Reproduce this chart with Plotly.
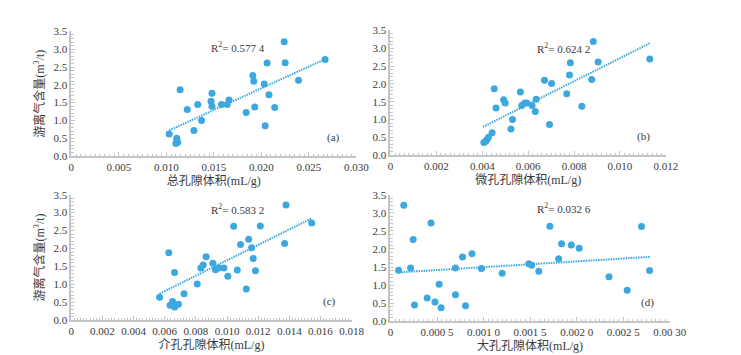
"""Free gas content vs. pore volume: four scatter panels with linear trend lines."""

import plotly.graph_objects as go

# ---- data ----
total_pv = [0.0103, 0.01145, 0.0111, 0.0111, 0.0112, 0.0110, 0.0122, 0.0133, 0.0129, 0.0137,
            0.0147, 0.0148, 0.0148, 0.0158, 0.0164, 0.0166, 0.0184, 0.0191, 0.0192, 0.0193,
            0.0203, 0.0204, 0.0206, 0.0208, 0.0214, 0.0224, 0.0225, 0.0239, 0.0267]
total_gas = [0.62, 1.86, 0.50, 0.43, 0.39, 0.35, 1.31, 1.45, 0.72, 1.00,
             1.54, 1.76, 1.40, 1.45, 1.45, 1.57, 1.22, 2.26, 2.10, 1.38,
             2.02, 0.85, 2.61, 1.72, 1.36, 3.21, 2.62, 2.13, 2.71]

micro_pv = [0.00407, 0.00415, 0.0042, 0.00427, 0.00443, 0.00452, 0.0046, 0.00493, 0.0050, 0.00525,
            0.00532, 0.00566, 0.00572, 0.00585, 0.00594, 0.00617, 0.00631, 0.00635, 0.00671, 0.00693,
            0.00702, 0.00768, 0.0078, 0.00784, 0.00834, 0.00877, 0.00884, 0.00905, 0.0113]
micro_gas = [0.35, 0.39, 0.43, 0.50, 0.63, 1.86, 1.32, 1.55, 1.46, 0.73,
             1.00, 1.77, 1.39, 1.46, 1.46, 1.39, 1.22, 1.57, 2.10, 0.86,
             2.01, 1.72, 2.25, 2.59, 1.37, 2.12, 3.19, 2.61, 2.70]

meso_pv = [0.00567, 0.00626, 0.00634, 0.0065, 0.00663, 0.00663, 0.00688, 0.00724, 0.00809, 0.00832,
           0.00847, 0.00866, 0.00909, 0.00926, 0.00947, 0.0098, 0.01005, 0.01043, 0.01066, 0.01087,
           0.01124, 0.01139, 0.01158, 0.01168, 0.01183, 0.01214, 0.0137, 0.01379, 0.01544]
meso_gas = [0.64, 1.88, 0.42, 0.52, 0.37, 1.33, 0.45, 0.74, 1.01, 1.46,
            1.54, 1.77, 1.59, 1.41, 1.46, 1.46, 1.23, 2.62, 1.40, 2.11,
            0.87, 2.26, 2.02, 1.72, 1.38, 2.63, 2.14, 3.21, 2.71]

macro_pv = [0.000087, 0.000143, 0.000216, 0.000244, 0.000258, 0.000394, 0.000436, 0.000478, 0.000523, 0.000544,
            0.000698, 0.000698, 0.000774, 0.000806, 0.000876, 0.000977, 0.0012, 0.001486, 0.001517, 0.001594,
            0.001713, 0.001807, 0.001838, 0.001943, 0.002027, 0.002348, 0.002543, 0.002697, 0.002784]
macro_gas = [1.41, 3.21, 1.47, 2.26, 0.45, 0.64, 2.72, 0.53, 1.02, 0.37,
             1.47, 0.73, 1.78, 0.43, 1.87, 1.46, 1.33, 1.59, 1.55, 1.38,
             2.63, 1.73, 2.14, 2.11, 2.02, 1.23, 0.86, 2.62, 1.40]

# trend line end points (x, y) as drawn in the picture
trend_x = [[0.0103, 0.0267], [0.00403, 0.0113], [0.00567, 0.01544], [0.000087, 0.002784]]
trend_y = [[0.72, 2.72], [0.79, 3.14], [0.74, 2.84], [1.35, 1.78]]

r2_text = ["0.577 4", "0.624 2", "0.583 2", "0.032 6"]
panel_tags = ["(a)", "(b)", "(c)", "(d)"]

x_titles = ["总孔隙体积(mL/g)", "微孔孔隙体积(mL/g)", "介孔孔隙体积(mL/g)", "大孔孔隙体积(mL/g)"]
y_title = "游离气含量(m<sup>3</sup>/t)"

x_tickvals = [
    [0, 0.005, 0.010, 0.015, 0.020, 0.025, 0.030],
    [0, 0.002, 0.004, 0.006, 0.008, 0.010, 0.012],
    [0, 0.002, 0.004, 0.006, 0.008, 0.010, 0.012, 0.014, 0.016, 0.018],
    [0, 0.0005, 0.0010, 0.0015, 0.0020, 0.0025, 0.0030],
]
x_ticktext = [
    ["0", "0.005", "0.010", "0.015", "0.020", "0.025", "0.030"],
    ["0", "0.002", "0.004", "0.006", "0.008", "0.010", "0.012"],
    ["0", "0.002", "0.004", "0.006", "0.008", "0.010", "0.012", "0.014", "0.016", "0.018"],
    ["0", "0.000 5", "0.001 0", "0.001 5", "0.002 0", "0.002 5", "0.00 30"],
]
y_tickvals = [0, 0.5, 1.0, 1.5, 2.0, 2.5, 3.0, 3.5]
y_ticktext = ["0.0", "0.5", "1.0", "1.5", "2.0", "2.5", "3.0", "3.5"]

# r2 label anchor in data coords
r2_x = [0.0175, 0.00755, 0.0107, 0.00186]
r2_y = [3.05, 3.0, 3.10, 3.12]

# ---- layout ----
W, H = 741, 355
BLUE = "#3DA8DF"
AXIS_GREY = "#c4c4c4"
TEXT = "#3a3a3a"
FONT = "Liberation Serif, Noto Sans CJK SC, serif"

# plot boxes in pixels: (left, right, top, bottom)
boxes = [(62, 355, 18, 147), (390, 673, 17, 146), (62, 350, 187, 317), (390, 677, 187, 318)]
x_max = [0.030, 0.012, 0.018, 0.0030]
x_minor = [0.0005, 0.0002, 0.0002, 0.00005]

xs = [total_pv, micro_pv, meso_pv, macro_pv]
ys = [total_gas, micro_gas, meso_gas, macro_gas]

fig = go.Figure()

for i in range(4):
    n = "" if i == 0 else str(i + 1)
    xa, ya = "x" + n, "y" + n
    fig.add_trace(go.Scatter(
        x=trend_x[i], y=trend_y[i], mode="lines", xaxis=xa, yaxis=ya,
        line=dict(color=BLUE, width=2, dash="1.5px,1px"), showlegend=False, hoverinfo="skip",
    ))
    fig.add_trace(go.Scatter(
        x=xs[i], y=ys[i], mode="markers", xaxis=xa, yaxis=ya,
        marker=dict(color=BLUE, size=7, line=dict(width=0)), showlegend=False,
    ))

    left, right, top, bottom = boxes[i]
    tick_common = dict(
        showline=True, linecolor=AXIS_GREY, linewidth=2, showgrid=False, zeroline=False,
        ticks="inside", ticklen=4, tickcolor=AXIS_GREY, tickwidth=1,
        tickfont=dict(family=FONT, size=11, color=TEXT), mirror=False,
    )
    fig.layout["xaxis" + n] = dict(
        domain=[left / W, right / W], anchor=ya, range=[0, x_max[i]],
        tickmode="array", tickvals=x_tickvals[i], ticktext=x_ticktext[i],
        minor=dict(ticks="inside", ticklen=2.5, tickcolor=AXIS_GREY, dtick=x_minor[i]),
        title=dict(text=x_titles[i], font=dict(family=FONT, size=12, color=TEXT), standoff=4),
        **tick_common,
    )
    y_axis = dict(
        domain=[1 - bottom / H, 1 - top / H], anchor=xa, range=[0, 3.5],
        tickmode="array", tickvals=y_tickvals, ticktext=y_ticktext,
        minor=dict(ticks="inside", ticklen=2.5, tickcolor=AXIS_GREY, dtick=0.1),
        **tick_common,
    )
    if i % 2 == 0:
        y_axis["title"] = dict(text=y_title, font=dict(family=FONT, size=12, color=TEXT), standoff=6)
    fig.layout["yaxis" + n] = y_axis

    fig.add_annotation(
        x=r2_x[i], y=r2_y[i], xref=xa, yref=ya, showarrow=False,
        text="R<sup>2</sup>= " + r2_text[i],
        font=dict(family=FONT, size=11, color=TEXT),
    )
    fig.add_annotation(
        x=0.95, y=0.08, xref=xa + " domain", yref=ya + " domain", showarrow=False,
        text=panel_tags[i], font=dict(family=FONT, size=11, color=TEXT),
    )

fig.update_layout(
    width=W, height=H,
    margin=dict(l=0, r=0, t=0, b=0),
    paper_bgcolor="white", plot_bgcolor="white",
    font=dict(family=FONT, color=TEXT),
)

fig.write_html("out.html")
